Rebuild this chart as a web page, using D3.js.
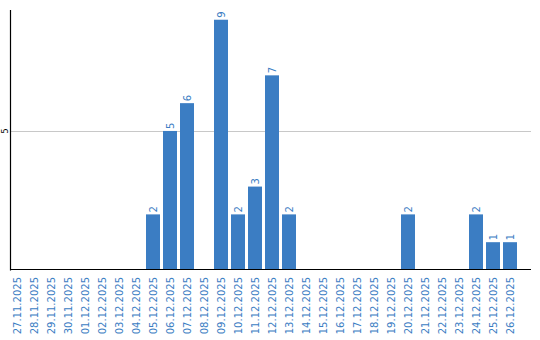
<!DOCTYPE html>
<html><head><meta charset="utf-8">
<script src="https://cdn.jsdelivr.net/npm/d3@7"></script>
<style>body{margin:0;background:#fff}svg{display:block}text{font-family:"DejaVu Sans",Verdana,sans-serif}</style>
</head><body>
<svg id="c" width="540" height="340"></svg>
<script>
const categories = ["27.11.2025","28.11.2025","29.11.2025","30.11.2025","01.12.2025","02.12.2025","03.12.2025","04.12.2025","05.12.2025","06.12.2025","07.12.2025","08.12.2025","09.12.2025","10.12.2025","11.12.2025","12.12.2025","13.12.2025","14.12.2025","15.12.2025","16.12.2025","17.12.2025","18.12.2025","19.12.2025","20.12.2025","21.12.2025","22.12.2025","23.12.2025","24.12.2025","25.12.2025","26.12.2025"];
const values = [0,0,0,0,0,0,0,0,2,5,6,0,9,2,3,7,2,0,0,0,0,0,0,2,0,0,0,2,1,1];
const yTicks = [5];

const color = "#3b7dc3";
const svg = d3.select("#c");
const x = d3.scaleBand().domain(categories).range([10, 517]).paddingInner(3/17).paddingOuter(0);
const y = d3.scaleLinear().domain([0, 9.35]).range([270, 10]);

// gridlines
svg.append("g").selectAll("line").data(yTicks).join("line")
  .attr("x1", 11).attr("x2", 531)
  .attr("y1", d => Math.round(y(d)) + 0.5).attr("y2", d => Math.round(y(d)) + 0.5)
  .attr("stroke", "#c8c8c8").attr("stroke-width", 1);

// y tick labels
svg.append("g").selectAll("text").data(yTicks).join("text")
  .attr("transform", d => `translate(8,${y(d)}) rotate(-90)`)
  .attr("text-anchor", "middle").attr("font-size", 8).attr("fill", "#000")
  .text(d => d);

// bars
const data = categories.map((c, i) => ({c, v: values[i]})).filter(d => d.v > 0);
svg.append("g").selectAll("rect").data(data).join("rect")
  .attr("x", d => x(d.c)).attr("width", x.bandwidth())
  .attr("y", d => y(d.v)).attr("height", d => y(0) - y(d.v))
  .attr("fill", color);

// value labels
svg.append("g").selectAll("text").data(data).join("text")
  .attr("transform", d => `translate(${x(d.c) + x.bandwidth()/2 + 3.5},${y(d.v) - 2}) rotate(-90)`)
  .attr("text-anchor", "start").attr("font-size", 10).attr("fill", color)
  .text(d => d.v);

// axes lines
svg.append("line").attr("x1", 10.5).attr("x2", 10.5).attr("y1", 10).attr("y2", 270.5)
  .attr("stroke", "#000").attr("stroke-width", 1.2);
svg.append("line").attr("x1", 10).attr("x2", 531).attr("y1", 269.5).attr("y2", 269.5)
  .attr("stroke", "#000").attr("stroke-width", 1.2);

// x tick labels
svg.append("g").selectAll("text").data(categories).join("text")
  .attr("transform", d => `translate(${x(d) + x.bandwidth()/2 + 3.5},277) rotate(-90)`)
  .attr("text-anchor", "end").attr("font-size", 10).attr("fill", color)
  .text(d => d);
</script>
</body></html>
